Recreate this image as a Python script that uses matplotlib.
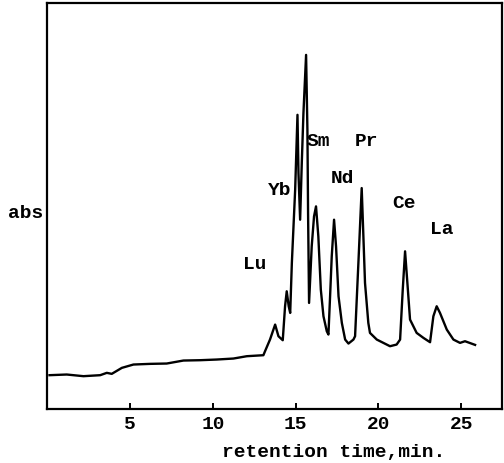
import matplotlib
matplotlib.use("Agg")
import matplotlib.pyplot as plt

# retention time (min) and absorbance (arbitrary units)
time = [0.13, 1.17, 2.18, 3.19, 3.59, 3.89, 4.50, 5.20, 6.21, 7.21, 8.22, 9.23,
        10.23, 11.24, 12.05, 13.05, 13.15, 13.45, 13.76, 13.96, 14.22, 14.36,
        14.46, 14.58, 14.67, 14.77, 14.97, 15.11, 15.17, 15.27, 15.37, 15.47,
        15.63, 15.71, 15.75, 15.81, 15.97, 16.11, 16.23, 16.37, 16.52, 16.68,
        16.88, 16.98, 17.08, 17.18, 17.32, 17.44, 17.59, 17.79, 17.99, 18.19,
        18.49, 18.59, 18.79, 18.99, 19.19, 19.39, 19.49, 19.90, 20.30, 20.70,
        21.10, 21.31, 21.47, 21.61, 21.75, 21.91, 22.31, 22.72, 23.12, 23.32,
        23.52, 23.72, 24.13, 24.53, 24.93, 25.23, 25.84]
absorbance = [10.3, 10.5, 10.0, 10.3, 11.0, 10.7, 12.5, 13.5, 13.7, 13.8, 14.7, 14.8,
              15.0, 15.3, 16.0, 16.3, 17.5, 21.0, 25.5, 22.0, 20.8, 31.0,
              35.5, 31.0, 29.0, 44.0, 66.0, 88.5, 71.0, 57.0, 74.0, 89.0,
              106.5, 84.0, 59.0, 32.0, 49.0, 58.0, 61.0, 52.0, 36.0, 28.0,
              23.5, 22.5, 34.0, 46.0, 57.0, 49.0, 34.0, 26.0, 21.0, 19.8,
              21.0, 22.0, 44.0, 66.5, 38.0, 26.0, 23.0, 21.0, 20.0, 19.0,
              19.5, 21.0, 36.0, 47.5, 38.0, 27.0, 23.0, 21.5, 20.2, 28.0,
              31.0, 29.0, 24.0, 21.0, 20.0, 20.5, 19.4]

# peak labels and their positions (time, absorbance)
peak_names = ["Lu", "Yb", "Sm", "Nd", "Pr", "Ce", "La"]
peak_label_t = [12.55, 14.06, 16.35, 17.80, 19.31, 21.55, 23.84]
peak_label_y = [43.5, 65.8, 80.5, 69.3, 80.5, 61.8, 54.2]

xticks = [5, 10, 15, 20, 25]
xtick_labels = ["5", "10", "15", "20", "25"]

FONT = "Liberation Mono"

fig = plt.figure(figsize=(5.04, 4.63), dpi=100)
ax = fig.add_axes([0.094, 0.1156, 0.9015, 0.8773])

ax.plot(time, absorbance, color="black", lw=1.7, solid_joinstyle="round")

ax.set_xlim(0, 27.45)
ax.set_ylim(0, 122)

for s in ax.spines.values():
    s.set_linewidth(1.6)

ax.set_xticks(xticks)
ax.set_xticklabels(xtick_labels, fontfamily=FONT, fontsize=14, fontweight="bold")
ax.tick_params(axis="x", direction="in", length=4, width=1.4, pad=5)
ax.set_yticks([])

ax.set_xlabel("retention time,min.", fontfamily=FONT, fontsize=14,
              fontweight="bold", labelpad=1)
ax.xaxis.set_label_coords(0.63, -0.085)

for name, t, y in zip(peak_names, peak_label_t, peak_label_y):
    ax.text(t, y, name, ha="center", va="center", fontfamily=FONT,
            fontsize=14, fontweight="bold")

fig.text(0.05, 0.538, "abs", ha="center", va="center", fontfamily=FONT,
         fontsize=14, fontweight="bold")

fig.savefig("out.png", dpi=100)
